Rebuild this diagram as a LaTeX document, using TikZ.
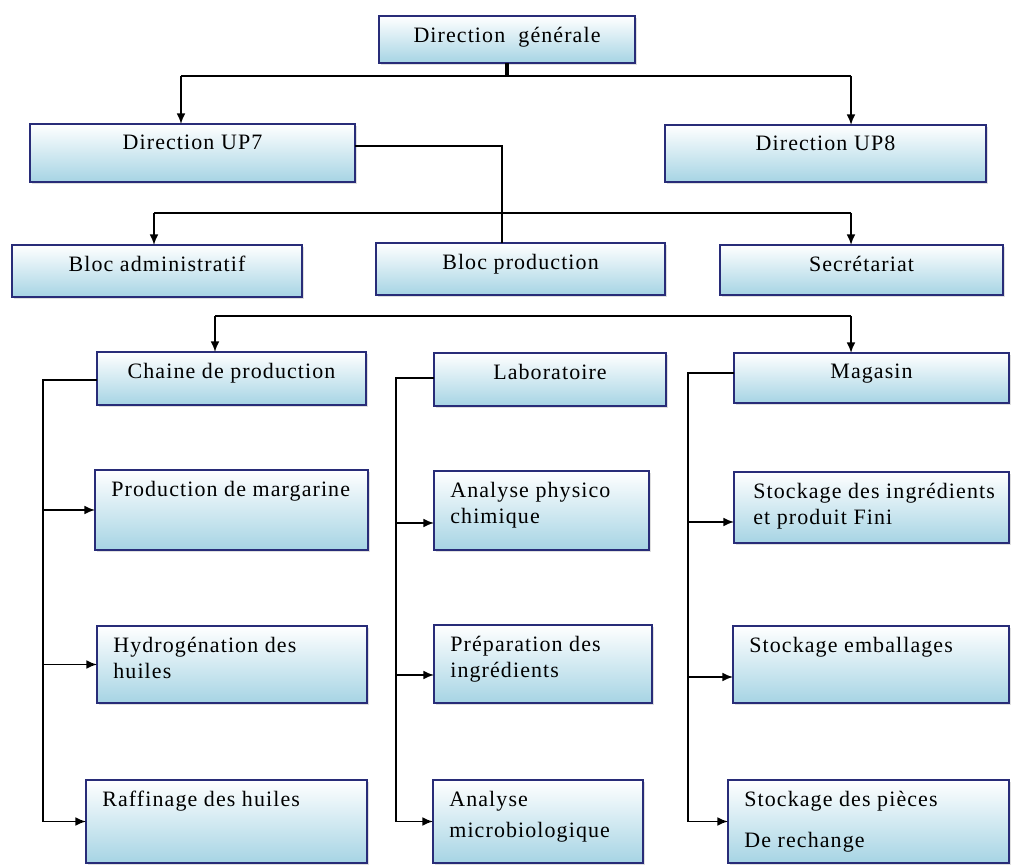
\documentclass[tikz,border=0pt]{standalone}
\usepackage{fontspec}
\setmainfont{Liberation Serif}[LetterSpace=5]
\usetikzlibrary{arrows.meta,shadows}
\definecolor{bordboite}{RGB}{40,44,120}
\definecolor{bleuboite}{RGB}{166,212,228}

\begin{document}
\begin{tikzpicture}[x=0.2mm,y=-0.2mm,
  every node/.style={font=\fontsize{12.5}{14.5}\selectfont},
  boite/.style={draw=bordboite,line width=1pt,top color=white,bottom color=bleuboite,
    inner sep=0pt,outer sep=0pt,anchor=north west,
    drop shadow={shadow xshift=0.4mm,shadow yshift=-0.4mm,opacity=0.25}},
  titre/.style={anchor=north,inner sep=0pt,yshift=-2.2mm},
  texte/.style={anchor=north west,inner sep=0pt,align=left,xshift=3.2mm,yshift=-2.2mm},
  trait/.style={line width=1pt},
  fleche/.style={line width=1pt,-{Latex[length=6pt,width=5pt]}}]
\useasboundingbox (0,0) rectangle (1011,866);

% niveau 1
\node[boite,minimum width=51.2mm,minimum height=9.4mm,label={[titre]north:Direction~~générale}] (dg) at (379,16) {};
\node[boite,minimum width=65mm,minimum height=11.6mm,label={[titre]north:Direction UP7}] (up7) at (30,124) {};
\node[boite,minimum width=64.2mm,minimum height=11.4mm,label={[titre]north:Direction UP8}] (up8) at (665,125) {};

% niveau 2
\node[boite,minimum width=58mm,minimum height=10.4mm,label={[titre]north:Bloc administratif}] (badm) at (12,245) {};
\node[boite,minimum width=57.8mm,minimum height=10.4mm,label={[titre]north:Bloc production}] (bprod) at (376,243) {};
\node[boite,minimum width=56.6mm,minimum height=10mm,label={[titre]north:Secrétariat}] (secr) at (720,245) {};

% niveau 3
\node[boite,minimum width=53.8mm,minimum height=10.6mm,label={[titre]north:Chaine de production}] (chaine) at (97,352) {};
\node[boite,minimum width=46.4mm,minimum height=10.6mm,label={[titre]north:Laboratoire}] (labo) at (434,353) {};
\node[boite,minimum width=55mm,minimum height=10mm,label={[titre]north:Magasin}] (magasin) at (734,353) {};

% chaine de production
\node[boite,minimum width=54.6mm,minimum height=16mm,label={[texte]north west:Production de margarine}] (margarine) at (95,470) {};
\node[boite,minimum width=54mm,minimum height=15.4mm,label={[texte]north west:Hydrogénation des\\huiles}] (hydro) at (97,626) {};
\node[boite,minimum width=56.2mm,minimum height=16.6mm,label={[texte]north west:Raffinage des huiles}] (raff) at (86,780) {};

% laboratoire
\node[boite,minimum width=43mm,minimum height=15.8mm,label={[texte]north west:Analyse physico\\chimique}] (physico) at (434,471) {};
\node[boite,minimum width=43.6mm,minimum height=15.6mm,label={[texte]north west:Préparation des\\ingrédients}] (prepa) at (434,625) {};
\node[boite,minimum width=42mm,minimum height=16.6mm,label={[texte]north west:Analyse\\[1mm]microbiologique}] (microbio) at (433,780) {};

% magasin
\node[boite,minimum width=55mm,minimum height=14.2mm,label={[texte,xshift=0.6mm]north west:Stockage des ingrédients\\et produit Fini}] (ingr) at (734,472) {};
\node[boite,minimum width=55.2mm,minimum height=15.4mm,label={[texte]north west:Stockage emballages}] (emball) at (733,626) {};
\node[boite,minimum width=56.2mm,minimum height=16.6mm,label={[texte]north west:Stockage des pièces\\[3mm]De rechange}] (pieces) at (728,780) {};

% liaisons du haut
\coordinate (h1g) at (181,76);
\coordinate (h1d) at (851,76);
\draw[line width=1.8pt] (dg.south) -- (dg.south |- h1g);
\draw[trait] (h1g) -- (h1d);
\draw[fleche] (h1g) -- (h1g |- up7.north);
\draw[fleche] (h1d) -- (h1d |- up8.north);

\coordinate (c7) at (502,146);
\draw[trait] (c7 -| up7.east) -- (c7) -- (c7 |- bprod.north);

\coordinate (h2g) at (154,213);
\coordinate (h2d) at (851,213);
\draw[trait] (h2g) -- (h2d);
\draw[fleche] (h2g) -- (h2g |- badm.north);
\draw[fleche] (h2d) -- (h2d |- secr.north);

\coordinate (h3g) at (215,316);
\coordinate (h3d) at (851,316);
\draw[trait] (h3g) -- (h3d);
\draw[fleche] (h3g) -- (h3g |- chaine.north);
\draw[fleche] (h3d) -- (h3d |- magasin.north);

% colonnes
\coordinate (cg) at (43,380);
\draw[trait] (chaine.west |- cg) -- (cg) -- (cg |- raff.west);
\draw[fleche] (cg |- margarine.west) -- (margarine.west);
\draw[fleche] (cg |- hydro.west) -- (hydro.west);
\draw[fleche] (cg |- raff.west) -- (raff.west);

\coordinate (cl) at (396,378);
\draw[trait] (cl -| labo.west) -- (cl) -- (cl |- microbio.west);
\draw[fleche] (cl |- 0,523) -- (physico.west |- 0,523);
\draw[fleche] (cl |- 0,675) -- (prepa.west |- 0,675);
\draw[fleche] (cl |- microbio.west) -- (microbio.west);

\coordinate (cm) at (688,373);
\draw[trait] (cm -| magasin.west) -- (cm) -- (cm |- pieces.west);
\draw[fleche] (cm |- 0,522) -- (ingr.west |- 0,522);
\draw[fleche] (cm |- 0,677) -- (emball.west |- 0,677);
\draw[fleche] (cm |- pieces.west) -- (pieces.west);
\end{tikzpicture}
\end{document}
